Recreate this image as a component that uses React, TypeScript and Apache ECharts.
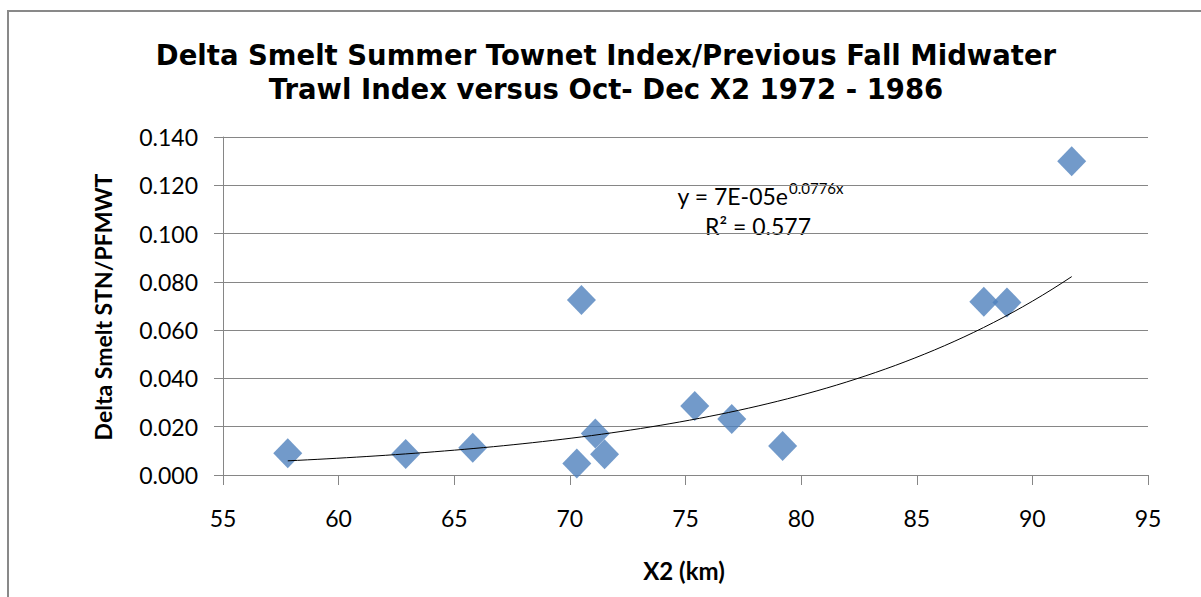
import React, { useEffect, useRef } from "react";
import * as echarts from "echarts";

// X2 (km), Oct-Dec, 1972-1986
const x2Km = [57.8, 62.9, 65.8, 70.5, 70.3, 71.1, 71.5, 75.4, 77.0, 79.2, 87.9, 88.9, 91.7];
// Delta Smelt STN / PFMWT
const stnPfmwt = [0.009, 0.0087, 0.0113, 0.0725, 0.0048, 0.0172, 0.0086, 0.0286, 0.0232, 0.012, 0.0718, 0.0715, 0.13];

const xTickMin = 55;
const xTickMax = 95;
const xTickStep = 5;
const yTickMin = 0;
const yTickMax = 0.14;
const yTickStep = 0.02;

const titleLines = [
  "Delta Smelt Summer Townet Index/Previous Fall Midwater",
  "Trawl Index versus Oct- Dec X2 1972 - 1986",
];
const yAxisTitle = "Delta Smelt STN/PFMWT";
const xAxisTitle = "X2 (km)";
const equationMain = "y = 7E-05e";
const equationSup = "0.0776x";
const rSquaredText = "R\u00B2 = 0.577";

const FONT = "Lato, 'DejaVu Sans', sans-serif";
const TITLE_FONT = "'DejaVu Sans', Lato, sans-serif";
const GRID_COLOR = "#868686";
const MARKER_COLOR = "#4F81BD";

// Exponential least-squares fit (as a spreadsheet trendline does): ln y = ln a + b x
function expFit(xs: number[], ys: number[]) {
  const n = xs.length;
  const ly = ys.map((v) => Math.log(v));
  const mx = xs.reduce((s, v) => s + v, 0) / n;
  const my = ly.reduce((s, v) => s + v, 0) / n;
  let sxy = 0;
  let sxx = 0;
  for (let i = 0; i < n; i++) {
    sxy += (xs[i] - mx) * (ly[i] - my);
    sxx += (xs[i] - mx) * (xs[i] - mx);
  }
  const b = sxy / sxx;
  const a = Math.exp(my - b * mx);
  return { a, b };
}

export default function App() {
  const ref = useRef<HTMLDivElement>(null);

  useEffect(() => {
    if (!ref.current) return;
    const chart = echarts.init(ref.current, null, { renderer: "svg" });

    const points = x2Km.map((x, i) => [x, stnPfmwt[i]]);
    const { a, b } = expFit(x2Km, stnPfmwt);
    const xMin = Math.min(...x2Km);
    const xMax = Math.max(...x2Km);
    const steps = 80;
    const trend: number[][] = [];
    for (let i = 0; i <= steps; i++) {
      const x = xMin + ((xMax - xMin) * i) / steps;
      trend.push([x, a * Math.exp(b * x)]);
    }

    chart.setOption({
      animation: false,
      backgroundColor: "#ffffff",
      title: {
        text: titleLines.join("\n"),
        left: 606,
        top: 38,
        padding: 0,
        textAlign: "center",
        textStyle: {
          fontFamily: TITLE_FONT,
          fontWeight: "bold",
          fontSize: 27.5,
          lineHeight: 34,
          color: "#000000",
        },
      },
      grid: { left: 223, right: 53, top: 137, bottom: 122, containLabel: false },
      xAxis: {
        type: "value",
        min: xTickMin,
        max: xTickMax,
        interval: xTickStep,
        axisLine: { show: true, onZero: false, lineStyle: { color: GRID_COLOR, width: 1 } },
        axisTick: { show: true, inside: false, length: 10, lineStyle: { color: GRID_COLOR } },
        axisLabel: { margin: 31, fontFamily: FONT, fontSize: 23, color: "#000000" },
        splitLine: { show: false },
      },
      yAxis: {
        type: "value",
        min: yTickMin,
        max: yTickMax,
        interval: yTickStep,
        axisLine: { show: true, lineStyle: { color: GRID_COLOR, width: 1 } },
        axisTick: { show: true, inside: false, length: 9, lineStyle: { color: GRID_COLOR } },
        axisLabel: {
          margin: 25,
          fontFamily: FONT,
          fontSize: 23,
          color: "#000000",
          formatter: (v: number) => v.toFixed(3),
        },
        splitLine: { show: true, lineStyle: { color: GRID_COLOR, width: 1 } },
      },
      series: [
        {
          type: "scatter",
          data: points,
          symbol: "diamond",
          symbolSize: [29, 30],
          itemStyle: { color: MARKER_COLOR },
          z: 2,
        },
        {
          type: "line",
          data: trend,
          showSymbol: false,
          symbol: "none",
          smooth: false,
          lineStyle: { color: "#000000", width: 1 },
          z: 3,
          silent: true,
        },
      ],
      graphic: [
        {
          type: "rect",
          shape: { x: 8, y: 11, width: 1220, height: 620 },
          style: { fill: "none", stroke: "#898989", lineWidth: 2 },
          silent: true,
          z: 0,
        },
        {
          type: "text",
          x: 103,
          y: 307,
          rotation: Math.PI / 2,
          style: {
            text: yAxisTitle,
            fontFamily: FONT,
            fontWeight: "bold",
            fontSize: 23,
            fill: "#000000",
            textAlign: "center",
            textVerticalAlign: "middle",
          },
        },
        {
          type: "text",
          x: 684,
          y: 570,
          style: {
            text: xAxisTitle,
            fontFamily: FONT,
            fontWeight: "bold",
            fontSize: 24,
            fill: "#000000",
            textAlign: "center",
            textVerticalAlign: "middle",
          },
        },
        {
          type: "text",
          x: 788,
          y: 196,
          style: {
            text: equationMain,
            fontFamily: FONT,
            fontSize: 23,
            fill: "#000000",
            textAlign: "right",
            textVerticalAlign: "middle",
          },
        },
        {
          type: "text",
          x: 789,
          y: 188,
          style: {
            text: equationSup,
            fontFamily: FONT,
            fontSize: 15,
            fill: "#000000",
            textAlign: "left",
            textVerticalAlign: "middle",
          },
        },
        {
          type: "text",
          x: 758,
          y: 226,
          style: {
            text: rSquaredText,
            fontFamily: FONT,
            fontSize: 23,
            fill: "#000000",
            textAlign: "center",
            textVerticalAlign: "middle",
          },
        },
      ],
    });

    return () => {
      chart.dispose();
    };
  }, []);

  return (
    <div
      ref={ref}
      style={{ position: "absolute", left: 0, top: 0, width: 1201, height: 597 }}
    />
  );
}
